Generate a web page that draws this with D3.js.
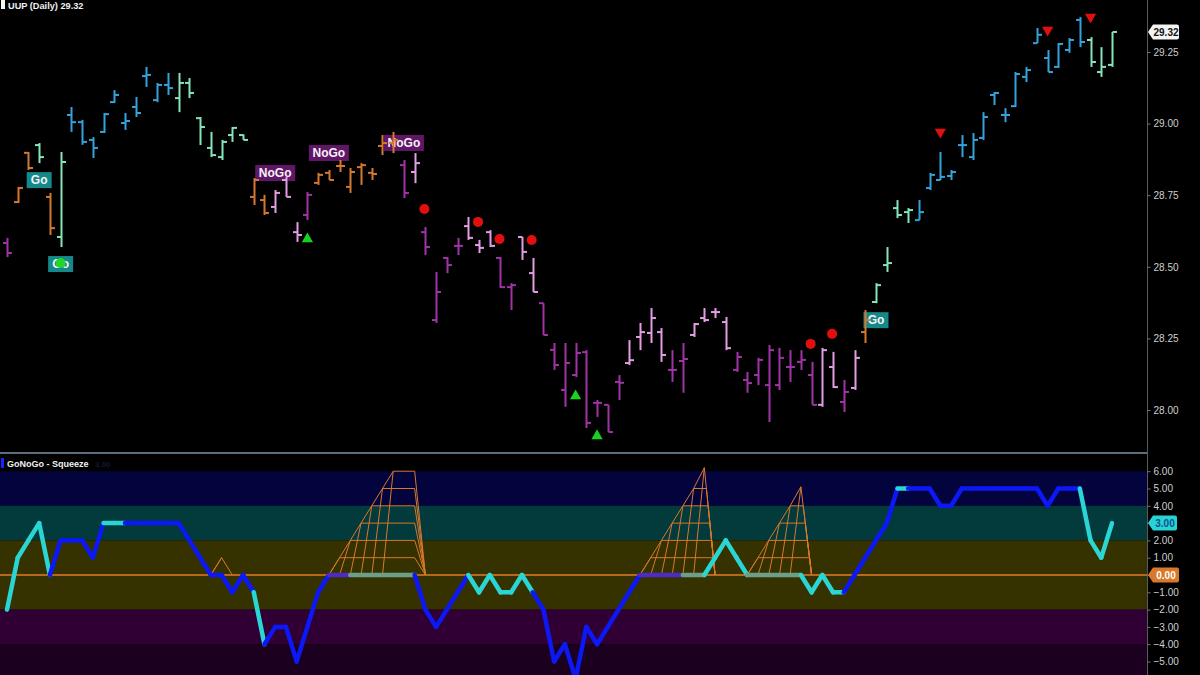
<!DOCTYPE html>
<html><head><meta charset="utf-8">
<script src="https://cdn.jsdelivr.net/npm/d3@7"></script>
<style>body{margin:0;background:#000;}svg{display:block;}</style>
</head><body>
<svg id="c" width="1200" height="675"></svg>
<script>
// ---------- DATA ----------
const highs  = [28.601,28.779,28.901,28.932,28.758,28.901,29.058,29.013,28.953,29.037,29.117,29.037,29.093,29.198,29.142,29.177,29.177,29.159,29.023,28.971,28.943,28.988,28.962,28.810,28.751,28.768,28.814,28.656,28.761,28.828,28.838,28.873,28.845,28.862,28.845,28.960,28.971,28.873,28.897,28.639,28.482,28.534,28.601,28.674,28.594,28.628,28.534,28.443,28.604,28.531,28.373,28.234,28.234,28.234,28.209,28.035,28.018,28.122,28.244,28.304,28.356,28.286,28.209,28.234,28.304,28.356,28.356,28.325,28.203,28.133,28.182,28.227,28.217,28.209,28.209,28.168,28.217,28.203,28.105,28.209,28.349,28.443,28.569,28.733,28.705,28.733,28.828,28.901,28.838,28.960,28.967,29.040,29.110,29.054,29.180,29.198,29.334,29.257,29.281,29.299,29.372,29.302,29.267,29.320];
const lows   = [28.534,28.723,28.838,28.862,28.611,28.569,28.971,28.926,28.880,28.967,29.072,28.978,29.023,29.128,29.075,29.100,29.040,29.089,28.925,28.883,28.873,28.936,28.943,28.716,28.681,28.688,28.744,28.587,28.663,28.786,28.803,28.831,28.758,28.786,28.803,28.890,28.897,28.740,28.792,28.541,28.304,28.478,28.541,28.594,28.548,28.569,28.426,28.349,28.524,28.412,28.262,28.140,28.011,28.115,27.937,27.976,27.923,28.035,28.157,28.209,28.234,28.168,28.098,28.060,28.255,28.307,28.321,28.209,28.133,28.060,28.087,27.958,28.070,28.098,28.140,28.018,28.011,28.077,27.993,28.070,28.234,28.373,28.482,28.670,28.653,28.663,28.768,28.803,28.803,28.883,28.873,28.943,29.065,29.005,29.058,29.145,29.281,29.180,29.194,29.247,29.267,29.198,29.163,29.198];
const opens  = [28.583,28.726,28.898,28.925,28.744,28.604,29.030,29.005,28.943,28.971,29.075,29.002,29.058,29.166,29.082,29.135,29.089,29.142,29.019,28.915,28.883,28.960,28.960,28.744,28.733,28.709,28.803,28.621,28.681,28.793,28.828,28.852,28.779,28.848,28.828,28.922,28.932,28.855,28.831,28.621,28.314,28.531,28.573,28.642,28.576,28.621,28.531,28.429,28.604,28.478,28.373,28.210,28.070,28.122,28.202,28.025,28.018,28.098,28.164,28.255,28.269,28.272,28.140,28.171,28.262,28.321,28.342,28.307,28.140,28.105,28.122,28.087,28.087,28.150,28.168,28.122,28.018,28.150,28.028,28.077,28.272,28.377,28.506,28.705,28.691,28.663,28.775,28.803,28.817,28.925,28.883,28.950,29.100,29.030,29.061,29.163,29.281,29.229,29.198,29.257,29.362,29.292,29.180,29.205];
const closes = [28.548,28.775,28.845,28.883,28.635,28.866,29.005,28.936,28.915,29.033,29.100,29.009,29.037,29.170,29.135,29.124,29.142,29.107,28.988,28.890,28.936,28.985,28.943,28.803,28.688,28.758,28.744,28.611,28.751,28.821,28.803,28.852,28.831,28.855,28.824,28.932,28.943,28.758,28.862,28.569,28.412,28.506,28.573,28.601,28.566,28.573,28.429,28.436,28.552,28.412,28.262,28.157,28.164,28.199,27.955,28.025,27.923,28.095,28.174,28.272,28.321,28.192,28.140,28.178,28.300,28.314,28.342,28.216,28.185,28.094,28.175,28.209,28.182,28.150,28.175,28.018,28.209,28.080,28.063,28.182,28.314,28.436,28.513,28.681,28.698,28.691,28.821,28.814,28.831,28.925,28.943,29.023,29.107,29.030,29.173,29.187,29.310,29.180,29.278,29.292,29.285,29.215,29.198,29.320];
// trend regime per bar: B strong go, M weak go, O nogo-fish, K weak nogo, P strong nogo
const regimes = "POOMOMBBBBBBBBBBMMMMMMMOOKKKPOOOOOOOOPKPPPPKKKPPKKPPPPPPPPKKKKPPKKKKPPPPPPPPKKPKOMMMMBBBBBBBBBBBBBBBBMMM".split("");
const oscValues = [-2,1,2,3,0,2,2,2,1,3,3,3,3,3,3,3,3,2,1,0,0,-1,0,-1,-4,-3,-3,-5,-3,-1,0,0,0,0,0,0,0,0,0,-2,-3,-2,-1,0,-1,0,-1,-1,0,-1,-2,-5,-4,-6,-3,-4,-3,-2,-1,0,0,0,0,0,0,0,1,2,1,0,0,0,0,0,0,-1,0,-1,-1,0,1,2,3,5,5,5,5,4,4,5,5,5,5,5,5,5,5,4,5,5,5,2,1,3];
// segment colour ending at bar i: c cyan, b blue, p purple, g grey-green
const oscColors = "-ccccbbbbbccbbbbbbbbbbbbcbbbbbbppggggggbbbbbccccccbbbbbbbbbbppppggccccgggggccccbbbbbcbbbbbbbbbbbbbbbbccc".split("");
const priceTicks = [28.00, 28.25, 28.50, 28.75, 29.00, 29.25];
const oscTicks = [6,5,4,3,2,1,0,-1,-2,-3,-4,-5];
const lastPrice = 29.32;
const lastOsc = 3;
const goLabels = [3, 5, 81];          // "Go" boxes below bars
const noGoLabels = [25, 30, 37];      // "NoGo" boxes above bars
const greenUp = [28, 53, 55];
const greenDot = [5];
const redDots = [39, 44, 46, 49, 75, 77];
const redDown = [87, 97, 101];
const squeezes = [
  {start:19, levels:0, top:1,   topL:20, topR:20, end:21},
  {start:30, levels:5, top:6,   topL:36, topR:38, end:39},
  {start:59, levels:5, top:6.2, topL:65, topR:65, end:66},
  {start:69, levels:4, top:5.1, topL:74, topR:74, end:75}
];
const bands = [
  {from:6, to:4, color:"#03033d"},
  {from:4, to:2, color:"#033a3b"},
  {from:2, to:-2, color:"#363200"},
  {from:-2, to:-4, color:"#300034"},
  {from:-4, to:-7, color:"#1c001f"}
];

// ---------- SCALES ----------
const svg = d3.select("#c");
const W = 1200, H = 675, axisX = 1147;
const FONT = "'Liberation Sans', Arial, sans-serif";
const x = d3.scaleLinear().domain([0, highs.length - 1]).range([7, 1112]);
const yP = d3.scaleLinear().domain([28, 29.25]).range([410, 52]);
const yO = d3.scaleLinear().domain([0, 6]).range([575, 471.2]);
const regimeColor = {B:"#33a3dc", M:"#86e4bb", O:"#d5782f", K:"#e29de4", P:"#a034a6"};
const oscColor = {c:"#2ad6d3", b:"#0c18f5", p:"#4e2cc4", g:"#6c9e88"};

svg.append("rect").attr("width", W).attr("height", H).attr("fill", "#000");

// ---------- LOWER PANEL BACKGROUND ----------
const lower = svg.append("g");
lower.append("defs").append("clipPath").attr("id","lowclip")
  .append("rect").attr("x",0).attr("y",455).attr("width",axisX).attr("height",H-455);
lower.selectAll("rect.band").data(bands).join("rect")
  .attr("class","band").attr("x",0).attr("width",axisX)
  .attr("y", d => yO(d.from)).attr("height", d => Math.min(yO(d.to), H) - yO(d.from))
  .attr("fill", d => d.color);

const lg = lower.append("g").attr("clip-path","url(#lowclip)");
lg.append("line").attr("x1",0).attr("x2",axisX).attr("y1",yO(0)).attr("y2",yO(0))
  .attr("stroke","#e07d22").attr("stroke-width",1.6);

// squeeze grids
const grid = lg.append("g").attr("stroke","#d8782c").attr("stroke-width",1).attr("fill","none");
squeezes.forEach(s => {
  const xr = k => s.topR > s.topL ? x(s.topR) : x(s.end) + (x(s.topR) - x(s.end)) * k / s.top;
  const segs = [];
  for (let k = 1; k <= s.levels; k++) {
    segs.push([x(s.start + k), yO(k), xr(k), yO(k)]);
    segs.push([x(s.start + k), yO(k), x(s.start + k - 1), yO(0)]);
    segs.push([x(s.start + k - 1), yO(k - 1), x(s.start + k), yO(k)]);
    segs.push([xr(k), yO(k), x(s.end), yO(0)]);
  }
  const kl = s.levels;
  segs.push([x(s.start + kl), yO(kl), x(s.topL), yO(s.top)]);
  segs.push([x(s.topL), yO(s.top), x(s.topL - 1), yO(0)]);
  segs.push([x(s.topL), yO(s.top), x(s.topR), yO(s.top)]);
  segs.push([x(s.topR), yO(s.top), x(s.end), yO(0)]);
  grid.selectAll(null).data(segs).join("line")
    .attr("x1", d => d[0]).attr("y1", d => d[1]).attr("x2", d => d[2]).attr("y2", d => d[3]);
});

// oscillator line
const oscSegs = oscValues.slice(1).map((v, j) => ({i0:j, i1:j+1, c:oscColors[j+1]}));
lg.append("g").selectAll("line").data(oscSegs).join("line")
  .attr("x1", d => x(d.i0)).attr("y1", d => yO(oscValues[d.i0]))
  .attr("x2", d => x(d.i1)).attr("y2", d => yO(oscValues[d.i1]))
  .attr("stroke", d => oscColor[d.c]).attr("stroke-width", 4.5).attr("stroke-linecap","round");

// lower panel title
svg.append("rect").attr("x",1).attr("y",458).attr("width",3).attr("height",10).attr("fill","#1a22ff");
svg.append("text").attr("x",7).attr("y",467).text("GoNoGo - Squeeze")
  .attr("fill","#f0f0f0").attr("font-family",FONT).attr("font-weight","bold").attr("font-size",9);
svg.append("text").attr("x",95).attr("y",467).text("3.00")
  .attr("fill","#15153a").attr("font-family",FONT).attr("font-weight","bold").attr("font-size",8);

// separator
svg.append("line").attr("x1",0).attr("x2",axisX).attr("y1",453).attr("y2",453)
  .attr("stroke","#5d6d7c").attr("stroke-width",2);

// ---------- PRICE PANEL ----------
// labels (drawn under the bars)
const lab = svg.append("g").attr("font-family",FONT).attr("font-weight","bold").attr("font-size",12);
goLabels.forEach(i => {
  const cy = yP(lows[i]) + 17;
  lab.append("rect").attr("x", x(i) - 12.5).attr("y", cy - 8).attr("width",25).attr("height",16).attr("fill","#15888a");
  lab.append("text").attr("x", x(i)).attr("y", cy + 4.3).attr("text-anchor","middle").attr("fill","#f4f4f4").text("Go");
});
noGoLabels.forEach(i => {
  const cy = yP(highs[i]) - 17;
  lab.append("rect").attr("x", x(i) - 20).attr("y", cy - 8).attr("width",40).attr("height",16).attr("fill","#62166a");
  lab.append("text").attr("x", x(i)).attr("y", cy + 4.3).attr("text-anchor","middle").attr("fill","#f4f4f4").text("NoGo");
});

// OHLC bars
const bars = svg.append("g").attr("stroke-width",2);
const idx = d3.range(highs.length);
bars.selectAll("g").data(idx).join("g").each(function(i) {
  const g = d3.select(this).attr("stroke", regimeColor[regimes[i]]);
  const xi = Math.round(x(i)) + 0.5;
  g.append("line").attr("x1",xi).attr("x2",xi).attr("y1",yP(highs[i])).attr("y2",yP(lows[i]));
  g.append("line").attr("x1",xi-4.5).attr("x2",xi).attr("y1",yP(opens[i])).attr("y2",yP(opens[i]));
  g.append("line").attr("x1",xi).attr("x2",xi+4.5).attr("y1",yP(closes[i])).attr("y2",yP(closes[i]));
});

// markers
const mk = svg.append("g");
greenUp.forEach(i => {
  const cy = yP(lows[i]) + 19;
  mk.append("path").attr("d", d3.symbol(d3.symbolTriangle, 55)()).attr("transform",`translate(${x(i)},${cy})`).attr("fill","#19d11f");
});
greenDot.forEach(i => {
  mk.append("circle").attr("cx", x(i)).attr("cy", yP(lows[i]) + 16).attr("r",5).attr("fill","#22d62a");
});
redDots.forEach(i => {
  mk.append("circle").attr("cx", x(i) - 1).attr("cy", yP(highs[i]) - 18).attr("r",5).attr("fill","#e30f0f");
});
redDown.forEach(i => {
  mk.append("path").attr("d", d3.symbol(d3.symbolTriangle, 55)()).attr("transform",`translate(${x(i)},${yP(highs[i]) - 20}) rotate(180)`).attr("fill","#e01010");
});

// title
svg.append("rect").attr("x",1).attr("y",0).attr("width",4).attr("height",9).attr("fill","#f4f4f4");
svg.append("text").attr("x",8).attr("y",9).text("UUP (Daily) 29.32")
  .attr("fill","#f0f0f0").attr("font-family",FONT).attr("font-weight","bold").attr("font-size",9.2);

// ---------- AXES ----------
svg.append("line").attr("x1",axisX+0.5).attr("x2",axisX+0.5).attr("y1",0).attr("y2",H)
  .attr("stroke","#5a5a5a").attr("stroke-width",1);
const pAxis = svg.append("g").attr("transform",`translate(${axisX+0.5},0)`)
  .call(d3.axisRight(yP).tickValues(priceTicks).tickFormat(d3.format(".2f")).tickSize(3).tickPadding(3));
const oAxis = svg.append("g").attr("transform",`translate(${axisX+0.5},0)`)
  .call(d3.axisRight(yO).tickValues(oscTicks).tickFormat(d3.format(".2f")).tickSize(3).tickPadding(3));
[pAxis, oAxis].forEach(a => {
  a.select(".domain").remove();
  a.selectAll("line").attr("stroke","#777");
  a.selectAll("text").attr("fill","#cfcfcf").attr("font-family",FONT).attr("font-size",10);
});
// tick labels hidden where a value tag sits on top of them
oAxis.selectAll(".tick").filter(d => d === lastOsc || d === 0).select("text").remove();

function tag(cy, text, fill, tc, w) {
  const x0 = axisX + 1, h = 7.5;
  svg.append("path")
    .attr("d", `M${x0},${cy} L${x0+5},${cy-h} L${x0+w-2},${cy-h} Q${x0+w},${cy-h} ${x0+w},${cy-h+2} L${x0+w},${cy+h-2} Q${x0+w},${cy+h} ${x0+w-2},${cy+h} L${x0+5},${cy+h} Z`)
    .attr("fill", fill);
  svg.append("text").attr("x", x0 + 5 + (w-5)/2).attr("y", cy + 3.6).attr("text-anchor","middle")
    .attr("fill", tc).attr("font-family",FONT).attr("font-size",10).attr("font-weight","bold").text(text);
}
tag(yP(lastPrice), d3.format(".2f")(lastPrice), "#f4f4f4", "#111", 31);
tag(yO(lastOsc), d3.format(".2f")(lastOsc), "#27d4d4", "#0f4f8f", 29);
tag(yO(0), d3.format(".2f")(0), "#d9782a", "#fff", 31);
</script>
</body></html>
